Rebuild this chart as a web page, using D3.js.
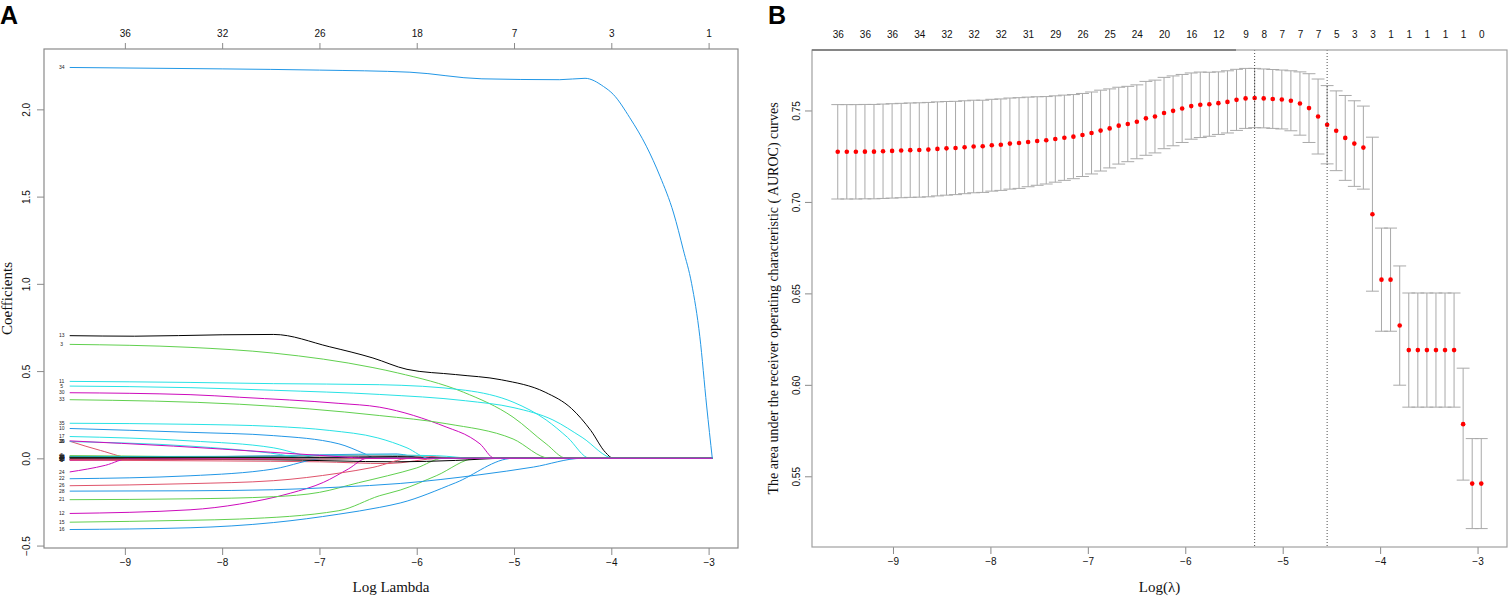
<!DOCTYPE html>
<html>
<head>
<meta charset="utf-8">
<script src="https://cdn.jsdelivr.net/npm/d3@7"></script>
<style>
  html, body { margin: 0; padding: 0; background: #ffffff; }
  svg { display: block; }
  .tick text { font-family: "Liberation Sans", Arial, sans-serif; }
</style>
</head>
<body>
<svg id="chart" width="1508" height="596"></svg>
<script>
// ---------------- DATA ----------------
// log(lambda) grid (72 lambdas, smallest first)
const logLambda = [
  -9.567, -9.474, -9.381, -9.288, -9.195, -9.102, -9.009, -8.916, -8.823, -8.730,
  -8.637, -8.544, -8.451, -8.358, -8.265, -8.172, -8.079, -7.986, -7.893, -7.800,
  -7.706, -7.613, -7.520, -7.427, -7.334, -7.241, -7.148, -7.055, -6.962, -6.869,
  -6.776, -6.683, -6.590, -6.497, -6.404, -6.311, -6.218, -6.125, -6.032, -5.939,
  -5.846, -5.753, -5.660, -5.567, -5.474, -5.381, -5.288, -5.195, -5.102, -5.009,
  -4.916, -4.823, -4.730, -4.637, -4.544, -4.451, -4.358, -4.265, -4.172, -4.079,
  -3.986, -3.893, -3.799, -3.706, -3.613, -3.520, -3.427, -3.334, -3.241, -3.148,
  -3.055, -2.962
];

// Panel B: cross-validated AUROC mean and standard error
const cvMean = [
  0.7274, 0.7274, 0.7274, 0.7275, 0.7275, 0.7277, 0.7279, 0.7281, 0.7283, 0.7284,
  0.7286, 0.7290, 0.7293, 0.7295, 0.7299, 0.7303, 0.7304, 0.7310, 0.7313, 0.7319,
  0.7322, 0.7328, 0.7333, 0.7337, 0.7344, 0.7351, 0.7357, 0.7366, 0.7377, 0.7390,
  0.7402, 0.7417, 0.7426, 0.7438, 0.7457, 0.7467, 0.7486, 0.7498, 0.7511, 0.7524,
  0.7531, 0.7534, 0.7540, 0.7547, 0.7558, 0.7566, 0.7568, 0.7566, 0.7563, 0.7560,
  0.7553, 0.7538, 0.7513, 0.7467, 0.7422, 0.7389, 0.7350, 0.7319, 0.7297, 0.6933,
  0.6575, 0.6575, 0.6324, 0.6190, 0.6190, 0.6190, 0.6190, 0.6190, 0.6190, 0.5785,
  0.5460, 0.5460
];
const cvSE = [
  0.0258, 0.0258, 0.0258, 0.0258, 0.0258, 0.0258, 0.0258, 0.0258, 0.0258, 0.0258,
  0.0258, 0.0257, 0.0256, 0.0255, 0.0254, 0.0253, 0.0252, 0.0251, 0.0250, 0.0249,
  0.0248, 0.0245, 0.0242, 0.0239, 0.0236, 0.0233, 0.0230, 0.0227, 0.0224, 0.0221,
  0.0216, 0.0210, 0.0206, 0.0202, 0.0202, 0.0199, 0.0195, 0.0191, 0.0186, 0.0181,
  0.0179, 0.0175, 0.0171, 0.0170, 0.0167, 0.0164, 0.0162, 0.0161, 0.0161, 0.0161,
  0.0164, 0.0173, 0.0188, 0.0205, 0.0214, 0.0218, 0.0232, 0.0234, 0.0227, 0.0421,
  0.0282, 0.0282, 0.0326, 0.0312, 0.0312, 0.0312, 0.0312, 0.0312, 0.0312, 0.0306,
  0.0246, 0.0246
];
const lambdaMinIndex = 46;
const lambda1seIndex = 54;

// Panel B top axis: number of non-zero coefficients (labels shown at these lambda indices)
const nzeroBIndex = [0, 3, 6, 9, 12, 15, 18, 21, 24, 27, 30, 33, 36, 39, 42,
                     45, 47, 49, 51, 53, 55, 57, 59, 61, 63, 65, 67, 69, 71];
const nzeroBLabels = [36, 36, 36, 34, 32, 32, 32, 31, 29, 26, 25, 24, 20, 16, 12,
                      9, 8, 7, 7, 7, 5, 3, 3, 1, 1, 1, 1, 1, 0];

// Panel A axes
const xTicks = [-9, -8, -7, -6, -5, -4, -3];
const nzeroALabels = [36, 32, 26, 18, 7, 3, 1];
const yTicksA = [-0.5, 0.0, 0.5, 1.0, 1.5, 2.0];
const yTicksB = [0.55, 0.60, 0.65, 0.70, 0.75];

// Panel A: coefficient paths, variable ids and knots [logLambda, coefficient]
const coefVars = [1, 2, 3, 4, 5, 6, 7, 8, 9, 10, 11, 12, 13, 14, 15, 16, 17, 18,
                  19, 20, 21, 22, 23, 24, 25, 26, 27, 28, 29, 30, 31, 32, 33, 34, 35, 36];
const coefKnots = [
  /*1*/  [[-9.567, 0.012], [-8.8, 0.008], [-8.2, 0]],
  /*2*/  [[-9.567, 0.098], [-9.25, 0.045], [-8.9, 0]],
  /*3*/  [[-9.567, 0.653], [-8.33, 0.636], [-7.47, 0.603], [-6.45, 0.52], [-6.2, 0.49], [-5.52, 0.379], [-5.01, 0.236], [-4.67, 0.083], [-4.46, 0]],
  /*4*/  [[-9.567, 0.006], [-8.0, 0.010], [-7.0, 0.020], [-6.2, 0.025], [-5.94, 0]],
  /*5*/  [[-9.567, 0.414], [-8.33, 0.405], [-7.47, 0.390], [-6.38, 0.366], [-5.5, 0.33], [-5.0, 0.29], [-4.6, 0.22], [-4.3, 0.12], [-3.97, 0]],
  /*6*/  [[-9.567, -0.012], [-8.5, -0.008], [-7.6, 0]],
  /*7*/  [[-9.567, -0.004], [-8.0, -0.004], [-6.8, -0.003], [-6.3, 0]],
  /*8*/  [[-9.567, -0.010], [-8.0, -0.015], [-7.0, -0.020], [-6.3, -0.030], [-5.75, 0]],
  /*9*/  [[-9.567, 0.015], [-8.5, 0.010], [-7.9, 0]],
  /*10*/ [[-9.567, 0.171], [-8.33, 0.149], [-7.47, 0.130], [-6.8, 0.083], [-6.55, 0.03], [-6.42, 0]],
  /*11*/ [[-9.567, 0.441], [-8.33, 0.435], [-7.47, 0.428], [-6.38, 0.422], [-5.5, 0.39], [-5.0, 0.32], [-4.67, 0.22], [-4.45, 0.12], [-4.22, 0]],
  /*12*/ [[-9.567, -0.316], [-8.33, -0.295], [-7.82, -0.262], [-7.3, -0.200], [-6.96, -0.138], [-6.7, -0.06], [-6.51, 0]],
  /*13*/ [[-9.567, 0.703], [-8.9, 0.700], [-8.0, 0.708], [-7.47, 0.710], [-6.9, 0.640], [-6.45, 0.575], [-6.1, 0.51], [-5.6, 0.48], [-5.13, 0.45], [-4.68, 0.379], [-4.41, 0.286], [-4.21, 0.159], [-4.06, 0.034], [-3.98, 0]],
  /*14*/ [[-9.567, 0.004], [-8.5, 0.003], [-7.4, 0]],
  /*15*/ [[-9.567, -0.366], [-8.33, -0.355], [-7.82, -0.348], [-6.8, -0.300], [-6.38, -0.214], [-6.17, -0.182], [-5.8, -0.10], [-5.39, 0]],
  /*16*/ [[-9.567, -0.408], [-8.33, -0.398], [-7.47, -0.368], [-6.8, -0.320], [-6.38, -0.281], [-6.17, -0.256], [-5.6, -0.14], [-5.01, 0]],
  /*17*/ [[-9.567, 0.125], [-8.33, 0.100], [-7.47, 0.060], [-6.96, 0]],
  /*18*/ [[-9.567, -0.005], [-8.0, -0.004], [-7.05, 0]],
  /*19*/ [[-9.567, 0.003], [-8.0, 0.004], [-6.6, 0.003], [-6.1, 0]],
  /*20*/ [[-9.567, 0.008], [-7.5, 0.012], [-6.5, 0.018], [-6.0, 0.015], [-5.5, 0]],
  /*21*/ [[-9.567, -0.237], [-8.33, -0.232], [-7.47, -0.220], [-7.0, -0.195], [-6.6, -0.14], [-6.3, -0.10], [-6.0, -0.055], [-5.73, 0]],
  /*22*/ [[-9.567, -0.117], [-8.33, -0.100], [-7.47, -0.061], [-6.93, 0]],
  /*23*/ [[-9.567, 0.010], [-7.5, 0.012], [-6.5, 0.020], [-5.8, 0.015], [-5.39, 0]],
  /*24*/ [[-9.567, -0.078], [-9.2, -0.040], [-8.95, 0]],
  /*25*/ [[-9.567, -0.004], [-7.5, -0.008], [-6.2, -0.020], [-5.6, -0.012], [-5.1, 0]],
  /*26*/ [[-9.567, -0.157], [-8.33, -0.145], [-7.47, -0.128], [-6.8, -0.085], [-6.45, -0.052], [-6.06, 0]],
  /*27*/ [[-9.567, 0.005], [-7.5, 0.004], [-6.7, 0]],
  /*28*/ [[-9.567, -0.188], [-8.33, -0.186], [-7.47, -0.180], [-6.8, -0.165], [-6.17, -0.144], [-5.35, -0.094], [-4.8, -0.05], [-4.3, 0]],
  /*29*/ [[-9.567, 0.096], [-8.33, 0.070], [-7.5, 0.030], [-7.1, 0]],
  /*30*/ [[-9.567, 0.376], [-8.33, 0.365], [-7.82, 0.350], [-6.8, 0.315], [-6.38, 0.293], [-5.69, 0.178], [-5.45, 0.121], [-5.35, 0.083], [-5.2, 0]],
  /*31*/ [[-9.567, 0.006], [-7.0, 0.006], [-6.2, 0.010], [-5.6, 0]],
  /*32*/ [[-9.567, -0.006], [-7.5, -0.005], [-6.3, 0]],
  /*33*/ [[-9.567, 0.336], [-7.82, 0.310], [-6.38, 0.245], [-5.69, 0.198], [-5.01, 0.111], [-4.63, 0]],
  /*34*/ [[-9.567, 2.240], [-8.0, 2.232], [-7.0, 2.225], [-6.07, 2.213], [-5.33, 2.175], [-4.53, 2.170], [-4.27, 2.178], [-4.08, 2.131], [-3.98, 2.086], [-3.81, 1.952], [-3.64, 1.789], [-3.50, 1.617], [-3.36, 1.406], [-3.26, 1.195], [-3.175, 1.003], [-3.09, 0.697], [-3.02, 0.30], [-2.962, 0]],
  /*35*/ [[-9.567, 0.201], [-8.33, 0.195], [-7.47, 0.183], [-6.9, 0.160], [-6.4, 0.117], [-6.1, 0.06], [-5.87, 0]],
  /*36*/ [[-9.567, 0.100], [-8.5, 0.070], [-7.5, 0.035], [-6.8, 0.010], [-6.5, 0]]
];

// R default palette used by matplot (col = 1:6)
const palette = ["#000000", "#DF536B", "#61D04F", "#2297E6", "#28E2E5", "#CD0BBC"];

// ---------------- DRAWING ----------------
const svg = d3.select("#chart");
const sans = '"Liberation Sans", Arial, sans-serif';
const serif = '"Liberation Serif", "Times New Roman", serif';
const boxColor = "#8a8a8a";

const lamExt = d3.extent(logLambda);
const lamPad = (lamExt[1] - lamExt[0]) * 0.04;
const xDomain = [lamExt[0] - lamPad, lamExt[1] + lamPad];

function padDomain(lo, hi) { const p = (hi - lo) * 0.04; return [lo - p, hi + p]; }

// ===== Panel A =====
const A = { left: 44, right: 738, top: 49, bottom: 548 };
const xA = d3.scaleLinear().domain(xDomain).range([A.left, A.right]);
const allCoef = coefKnots.flat().map(d => d[1]);
const yA = d3.scaleLinear().domain(padDomain(d3.min(allCoef), d3.max(allCoef))).range([A.bottom, A.top]);

const gA = svg.append("g");
const lineA = d3.line().x(d => xA(d[0])).y(d => yA(d[1])).curve(d3.curveMonotoneX);

coefVars.forEach((v, i) => {
  const knots = coefKnots[i].slice();
  const last = knots[knots.length - 1];
  if (last[0] < lamExt[1]) knots.push([lamExt[1], 0]);
  gA.append("path")
    .attr("d", lineA(knots))
    .attr("fill", "none")
    .attr("stroke", palette[(v - 1) % 6])
    .attr("stroke-width", 1);
});
// variable labels at left end
coefVars.forEach((v, i) => {
  gA.append("text")
    .attr("x", xA(lamExt[0]) - 8)
    .attr("y", yA(coefKnots[i][0][1]))
    .attr("dy", "0.35em")
    .attr("text-anchor", "middle")
    .attr("font-family", sans)
    .attr("font-size", 5)
    .attr("fill", "#222")
    .text(v);
});

// axes A
const axBA = gA.append("g").attr("transform", `translate(0,${A.bottom})`)
  .call(d3.axisBottom(xA).tickValues(xTicks).tickFormat(d3.format("d")).tickSize(7).tickPadding(4));
const axTA = gA.append("g").attr("transform", `translate(0,${A.top})`)
  .call(d3.axisTop(xA).tickValues(xTicks).tickFormat((d, i) => nzeroALabels[i]).tickSize(6).tickPadding(6));
const axLA = gA.append("g").attr("transform", `translate(${A.left},0)`)
  .call(d3.axisLeft(yA).tickValues(yTicksA).tickFormat(d3.format(".1f")).tickSize(7));
[axBA, axTA, axLA].forEach(ax => {
  ax.select(".domain").remove();
  ax.selectAll(".tick line").attr("stroke", boxColor);
  ax.selectAll(".tick text").attr("font-family", sans).attr("font-size", 10).attr("fill", "#111");
});
axLA.selectAll(".tick text")
  .attr("x", null).attr("dy", null)
  .attr("text-anchor", "middle")
  .attr("transform", "translate(-14,0) rotate(-90)")
  .text(d => d < 0 ? "\u22120.5" : d3.format(".1f")(d));
axBA.selectAll(".tick text").text(d => "\u2212" + Math.abs(d));

gA.append("rect")
  .attr("x", A.left).attr("y", A.top)
  .attr("width", A.right - A.left).attr("height", A.bottom - A.top)
  .attr("fill", "none").attr("stroke", boxColor).attr("stroke-width", 1.2);

gA.append("text").attr("x", (A.left + A.right) / 2).attr("y", 592)
  .attr("text-anchor", "middle").attr("font-family", serif).attr("font-size", 15).attr("fill", "#111")
  .text("Log Lambda");
gA.append("text").attr("transform", `translate(12,${(A.top + A.bottom) / 2}) rotate(-90)`)
  .attr("text-anchor", "middle").attr("font-family", serif).attr("font-size", 15).attr("fill", "#111")
  .text("Coefficients");
svg.append("text").attr("x", 0).attr("y", 24)
  .attr("font-family", sans).attr("font-weight", "bold").attr("font-size", 25).attr("fill", "#000")
  .text("A");

// ===== Panel B =====
const B = { left: 812, right: 1507, top: 50, bottom: 547 };
const xB = d3.scaleLinear().domain(xDomain).range([B.left, B.right]);
const cvUp = cvMean.map((m, i) => m + cvSE[i]);
const cvLo = cvMean.map((m, i) => m - cvSE[i]);
const yB = d3.scaleLinear().domain(padDomain(d3.min(cvLo), d3.max(cvUp))).range([B.bottom, B.top]);
const gB = svg.append("g");

const barW = (lamExt[1] - lamExt[0]) * 0.01;
const errColor = "#a9a9a9";
logLambda.forEach((l, i) => {
  gB.append("line").attr("x1", xB(l)).attr("x2", xB(l)).attr("y1", yB(cvUp[i])).attr("y2", yB(cvLo[i]))
    .attr("stroke", errColor).attr("stroke-width", 1);
  gB.append("line").attr("x1", xB(l - barW)).attr("x2", xB(l + barW)).attr("y1", yB(cvUp[i])).attr("y2", yB(cvUp[i]))
    .attr("stroke", errColor).attr("stroke-width", 1);
  gB.append("line").attr("x1", xB(l - barW)).attr("x2", xB(l + barW)).attr("y1", yB(cvLo[i])).attr("y2", yB(cvLo[i]))
    .attr("stroke", errColor).attr("stroke-width", 1);
});
gB.selectAll("circle.pt").data(logLambda).enter().append("circle")
  .attr("cx", d => xB(d)).attr("cy", (d, i) => yB(cvMean[i])).attr("r", 2.3)
  .attr("fill", "#ff0000");

[lambdaMinIndex, lambda1seIndex].forEach(k => {
  gB.append("line").attr("x1", xB(logLambda[k])).attr("x2", xB(logLambda[k]))
    .attr("y1", B.top).attr("y2", B.bottom)
    .attr("stroke", "#222").attr("stroke-width", 0.8).attr("stroke-dasharray", "1,2");
});

const axBB = gB.append("g").attr("transform", `translate(0,${B.bottom})`)
  .call(d3.axisBottom(xB).tickValues(xTicks).tickFormat(d3.format("d")).tickSize(7).tickPadding(4));
const axTB = gB.append("g").attr("transform", `translate(0,${B.top})`)
  .call(d3.axisTop(xB).tickValues(nzeroBIndex.map(k => logLambda[k]))
    .tickFormat((d, i) => nzeroBLabels[i]).tickSize(0).tickPadding(12));
const axLB = gB.append("g").attr("transform", `translate(${B.left},0)`)
  .call(d3.axisLeft(yB).tickValues(yTicksB).tickFormat(d3.format(".2f")).tickSize(7));
[axBB, axTB, axLB].forEach(ax => {
  ax.select(".domain").remove();
  ax.selectAll(".tick line").attr("stroke", boxColor);
  ax.selectAll(".tick text").attr("font-family", sans).attr("font-size", 10).attr("fill", "#111");
});
axLB.selectAll(".tick text")
  .attr("x", null).attr("dy", null)
  .attr("text-anchor", "middle")
  .attr("transform", "translate(-12,0) rotate(-90)");
axBB.selectAll(".tick text").text(d => "\u2212" + Math.abs(d));

gB.append("rect")
  .attr("x", B.left).attr("y", B.top)
  .attr("width", B.right - B.left).attr("height", B.bottom - B.top)
  .attr("fill", "none").attr("stroke", "#a0a0a0").attr("stroke-width", 1.2);
gB.append("line").attr("x1", B.left).attr("x2", 1236).attr("y1", B.top).attr("y2", B.top)
  .attr("stroke", "#707070").attr("stroke-width", 1.3);

gB.append("text").attr("x", (B.left + B.right) / 2).attr("y", 592)
  .attr("text-anchor", "middle").attr("font-family", serif).attr("font-size", 15).attr("fill", "#111")
  .text("Log(\u03bb)");
gB.append("text").attr("transform", `translate(778,${(B.top + B.bottom) / 2}) rotate(-90)`)
  .attr("text-anchor", "middle").attr("font-family", serif).attr("font-size", 14).attr("fill", "#111")
  .text("The area under the receiver operating characteristic ( AUROC) curves");
svg.append("text").attr("x", 768).attr("y", 24)
  .attr("font-family", sans).attr("font-weight", "bold").attr("font-size", 25).attr("fill", "#000")
  .text("B");
</script>
</body>
</html>
